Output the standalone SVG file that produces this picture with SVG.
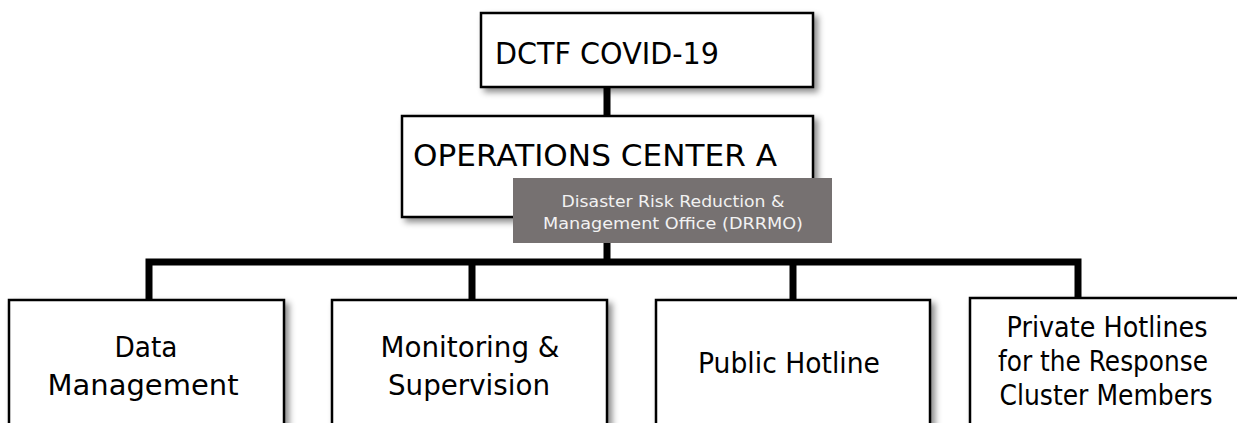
<svg xmlns="http://www.w3.org/2000/svg" width="1237" height="423" viewBox="0 0 1237 423">
<defs>
<filter id="sh" x="-10%" y="-10%" width="130%" height="140%">
<feDropShadow dx="4" dy="4" stdDeviation="3" flood-color="#000" flood-opacity="0.45"/>
</filter>
<style>
.box{fill:#fff;stroke:#000;stroke-width:2.5;filter:url(#sh)}
.t{font-family:"DejaVu Sans","Liberation Sans",sans-serif;fill:#000;text-anchor:middle}
.big{font-size:30px}
.mid{font-size:28px}
.sm{font-family:"DejaVu Sans","Liberation Sans",sans-serif;font-size:16.5px;fill:#f2f2f2;text-anchor:middle}
.c{stroke:#000;stroke-width:7;fill:none}
</style>
</defs>
<rect width="1237" height="423" fill="#fff"/>
<g id="connectors">
<line class="c" x1="607" y1="86" x2="607" y2="117"/>
<line class="c" x1="607" y1="243" x2="607" y2="262"/>
<polyline class="c" points="149,300 149,262 1078,262 1078,299"/>
<line class="c" x1="472" y1="262" x2="472" y2="300"/>
<line class="c" x1="793" y1="262" x2="793" y2="300"/>
</g>
<g id="dctf">
<rect class="box" x="481" y="13" width="332" height="74"/>
<text class="t big" x="607" y="64" textLength="224" lengthAdjust="spacingAndGlyphs">DCTF COVID-19</text>
</g>
<g id="ops">
<rect class="box" x="402" y="116" width="411" height="101"/>
<text class="t big" x="595" y="166" textLength="364" lengthAdjust="spacingAndGlyphs">OPERATIONS CENTER A</text>
</g>
<g id="drrmo">
<rect x="513" y="178" width="319" height="65" fill="#767171"/>
<text class="sm" x="673" y="207" textLength="223" lengthAdjust="spacingAndGlyphs">Disaster Risk Reduction &amp;</text>
<text class="sm" x="673" y="229" textLength="260" lengthAdjust="spacingAndGlyphs">Management Office (DRRMO)</text>
</g>
<g id="data">
<rect class="box" x="9" y="300" width="275" height="140"/>
<text class="t mid" x="146" y="357" textLength="63" lengthAdjust="spacingAndGlyphs">Data</text>
<text class="t mid" x="143" y="395" textLength="191" lengthAdjust="spacingAndGlyphs">Management</text>
</g>
<g id="monitoring">
<rect class="box" x="332" y="300" width="275" height="140"/>
<text class="t mid" x="470" y="357" textLength="179" lengthAdjust="spacingAndGlyphs">Monitoring &amp;</text>
<text class="t mid" x="469" y="395" textLength="162" lengthAdjust="spacingAndGlyphs">Supervision</text>
</g>
<g id="public">
<rect class="box" x="656" y="300" width="274" height="140"/>
<text class="t mid" x="789" y="373" textLength="182" lengthAdjust="spacingAndGlyphs">Public Hotline</text>
</g>
<g id="private">
<rect class="box" x="970" y="298" width="275" height="142"/>
<text class="t mid" x="1107" y="337" textLength="201" lengthAdjust="spacingAndGlyphs">Private Hotlines</text>
<text class="t mid" x="1103" y="371" textLength="210" lengthAdjust="spacingAndGlyphs">for the Response</text>
<text class="t mid" x="1106" y="405" textLength="213" lengthAdjust="spacingAndGlyphs">Cluster Members</text>
</g>
</svg>
